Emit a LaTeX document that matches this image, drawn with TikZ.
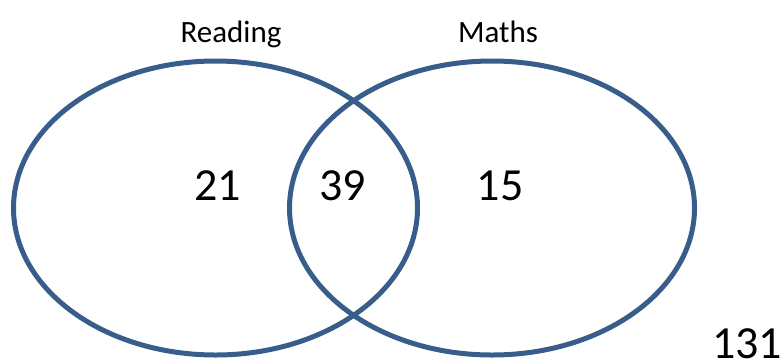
\documentclass[tikz,border=0pt]{standalone}
\usepackage{fontspec}
\setmainfont{Carlito}
\definecolor{vennblue}{RGB}{56,93,138}
\begin{document}
\begin{tikzpicture}[x=1pt,y=-1pt,
  venn/.style={draw=vennblue,line width=5pt},
  lbl/.style={anchor=base,inner sep=0pt,font=\fontsize{31}{36}\selectfont},
  num/.style={anchor=base,inner sep=0pt,font=\fontsize{46}{52}\selectfont}]
\useasboundingbox (0,0) rectangle (783,360);
\draw[venn] (215.5,208) ellipse [x radius=202, y radius=147];
\draw[venn] (492,208) ellipse [x radius=202.5, y radius=147];
\node[lbl] (reading) at (231,42) {Reading};
\node[lbl] (maths) at (498,42) {Maths};
\node[num] (a) at (217.5,200) {21};
\node[num] (b) at (342.5,200) {39};
\node[num] (c) at (500,200) {15};
\node[num] (d) at (747,358) {131};
\end{tikzpicture}
\end{document}
